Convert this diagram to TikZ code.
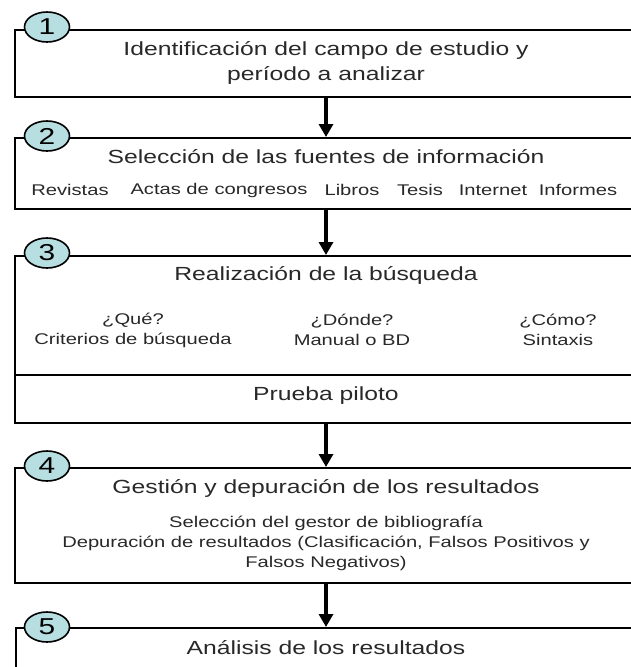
\documentclass[tikz,border=0pt]{standalone}
\usepackage{fontspec}
\setmainfont{Liberation Sans}[FakeStretch=1.3]
\usetikzlibrary{arrows.meta,shapes.geometric}
\definecolor{numfill}{RGB}{183,222,224}
\definecolor{txt}{RGB}{40,40,40}
\begin{document}
\begin{tikzpicture}[x=1pt,y=-1pt,
  box/.style={draw=black, line width=2.3pt, anchor=north west, inner sep=0pt, minimum width=660pt},
  num/.style={ellipse, draw=black, line width=1.6pt, fill=numfill, minimum width=45pt, minimum height=30pt, inner sep=0pt, font=\fontsize{23}{23}\selectfont},
  ttl/.style={font=\fontsize{19}{25}\selectfont, text=txt, align=center, inner sep=0pt},
  sml/.style={font=\fontsize{15.5}{20}\selectfont, text=txt, align=center, inner sep=0pt},
  flow/.style={line width=4pt, -{Triangle[width=14pt,length=13pt]}}
]
\useasboundingbox (0,0) rectangle (631,667);
\clip (0,0) rectangle (631,667);
% boxes
\node[box, minimum height=67pt] (b1) at (14,29) {};
\node[box, minimum height=71pt] (b2) at (14,137) {};
\node[box, minimum height=167pt] (b3) at (14,255) {};
\node[box, minimum height=115pt] (b4) at (14,467) {};
\node[box, minimum height=90pt] (b5) at (15,627) {};
\coordinate (d3) at (14,375);
\draw[line width=2.3pt] (d3) -- (d3 -| b3.east);
% numbers
\node[num] (n1) at (47,27) {1};
\node[num] (n2) at (47,136) {2};
\node[num] (n3) at (47,253) {3};
\node[num] (n4) at (47,466) {4};
\node[num] (n5) at (47,627) {5};
% texts
\node[ttl] (t1) at (326,62.5) {Identificación del campo de estudio y\\período a analizar};
\node[ttl] (t2) at (326,157) {Selección de las fuentes de información};
\node[sml] (i1) at (70,190) {Revistas};
\node[sml] (i2) at (219,190) {Actas de congresos};
\node[sml] (i3) at (352,190) {Libros};
\node[sml] (i4) at (420,190) {Tesis};
\node[sml] (i5) at (493,190) {Internet};
\node[sml] (i6) at (578,190) {Informes};
\node[ttl] (t3) at (326,275) {Realización de la búsqueda};
\node[sml] (q1) at (133,330) {¿Qué?\\Criterios de búsqueda};
\node[sml] (q2) at (352,330) {¿Dónde?\\Manual o BD};
\node[sml] (q3) at (558,330) {¿Cómo?\\Sintaxis};
\node[ttl] (p3) at (326,396) {Prueba piloto};
\node[ttl] (t4) at (326,488) {Gestión y depuración de los resultados};
\node[sml] (s4) at (326,543) {Selección del gestor de bibliografía\\Depuración de resultados (Clasificación, Falsos Positivos y\\Falsos Negativos)};
\node[ttl] (t5) at (326,648) {Análisis de los resultados};
% arrows
\draw[flow] (b1.south -| t2) -- (b2.north -| t2);
\draw[flow] (b2.south -| t2) -- (b3.north -| t2);
\draw[flow] (b3.south -| t2) -- (b4.north -| t2);
\draw[flow] (b4.south -| t2) -- (b5.north -| t2);
\end{tikzpicture}
\end{document}
